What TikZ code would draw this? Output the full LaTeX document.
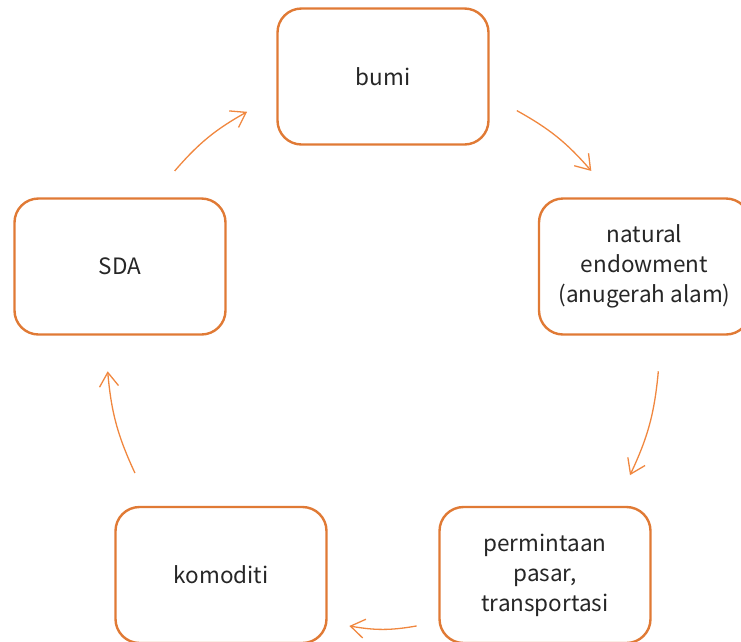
\documentclass[tikz,border=0pt]{standalone}
\usepackage{fontspec}
\setmainfont{Noto Sans CJK SC}
\usetikzlibrary{arrows.meta,calc}
\definecolor{boxorange}{HTML}{E07A35}
\definecolor{arroworange}{HTML}{F0873F}

\begin{document}
\begin{tikzpicture}[x=1pt,y=-1pt,
  stagebox/.style={draw=boxorange,line width=2.4pt,rounded corners=24pt,minimum width=211pt,minimum height=136pt,align=center,font=\fontsize{22.5}{30}\selectfont,text=black!85},
  cyclearrow/.style={draw=arroworange,line width=1.3pt,-{Straight Barb[length=14pt,width=19pt,line width=1.3pt]}}]
\useasboundingbox (0,0) rectangle (741,641);
% ---- stages of the cycle ----
\node[stagebox] (bumi) at (383,76.5) {bumi};
\node[stagebox] (natural) at (644.5,266.5) {natural\\endowment\\(anugerah alam)};
\node[stagebox] (pasar) at (545,575) {permintaan\\pasar,\\transportasi};
\node[stagebox] (komoditi) at (221,575) {komoditi};
\node[stagebox] (sda) at (120,266.5) {SDA};
% ---- arc ends on a circle round the hub ----
\coordinate (hub) at (383,352);
\foreach \nm/\ang in {b1s/-61,b1e/-41,n1s/4,n1e/26.5,p1s/83,p1e/97,k1s/154,k1e/176,s1s/221,s1e/240.5}
  \coordinate (\nm) at ($(hub)+(\ang:276)$);
% ---- arrows ----
\draw[cyclearrow] (b1s) to[bend left=10] (b1e);
\draw[cyclearrow] (n1s) to[bend left=10] (n1e);
\draw[cyclearrow] (p1s) to[bend left=10] (p1e);
\draw[cyclearrow] (k1s) to[bend left=10] (k1e);
\draw[cyclearrow] (s1s) to[bend left=10] (s1e);
\end{tikzpicture}
\end{document}
